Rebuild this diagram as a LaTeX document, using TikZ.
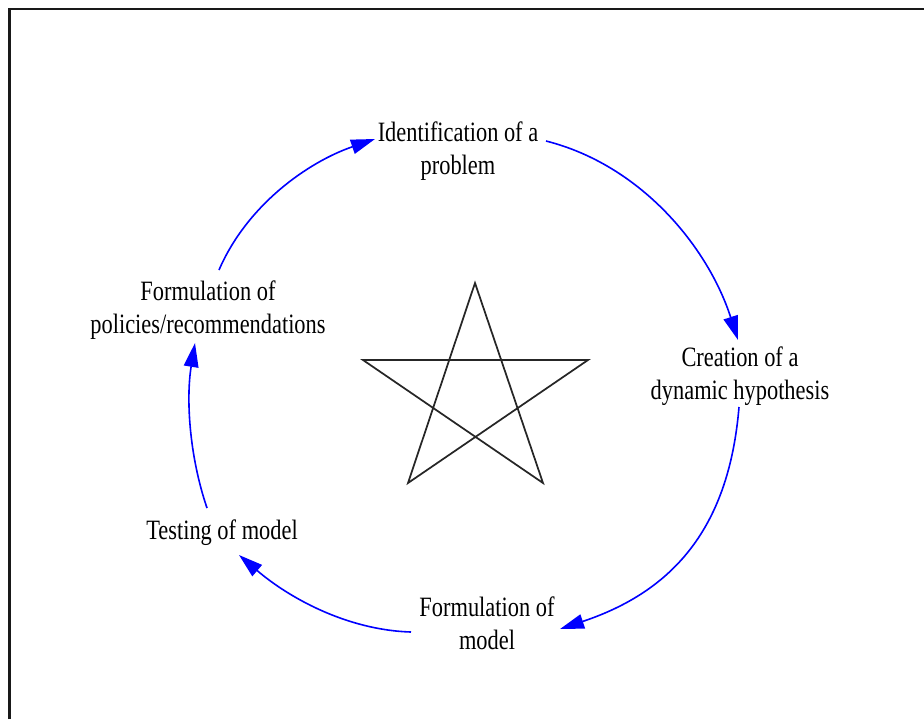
\documentclass[tikz,border=0pt]{standalone}
\usepackage{fontspec}
\setmainfont{Liberation Serif}[FakeStretch=0.80]
\usetikzlibrary{arrows.meta}
\begin{document}
\begin{tikzpicture}[x=0.75pt,y=-0.75pt,
  lbl/.style={align=center,inner sep=0pt,font=\fontsize{21}{25}\selectfont},
  cyc/.style={draw=blue,line width=1.2pt,-{Triangle[length=18pt,width=11pt]}},
  frame/.style={draw=black!90,line width=1.7pt},
  starline/.style={draw=black!85,line width=1.3pt,line join=miter}]
\useasboundingbox (0,0) rectangle (924,719);
\draw[frame] (9.5,719) -- (9.5,9) -- (924,9);
% star
\draw[starline] (475,283) -- (408,483) -- (588,360) -- (363,360) -- (543,483) -- cycle;
% labels
\node[lbl] (n1) at (458,151) {Identification of a\\problem};
\node[lbl] (n2) at (740,376) {Creation of a\\dynamic hypothesis};
\node[lbl] (n3) at (487,623) {Formulation of\\model};
\node[lbl] (n4) at (222,533) {Testing of model};
\node[lbl] (n5) at (208,310) {Formulation of\\policies/recommendations};
% connector ends
\coordinate (a1s) at (546,141); \coordinate (a1e) at (738,340);
\coordinate (a2s) at (739,407); \coordinate (a2e) at (560,629);
\coordinate (a3s) at (411,632); \coordinate (a3e) at (239,555);
\coordinate (a4s) at (207,508); \coordinate (a4e) at (195,343);
\coordinate (a5s) at (219,270); \coordinate (a5e) at (375,139);
\draw[cyc] (a1s) .. controls (641,165) and (708,247) .. (a1e);
\draw[cyc] (a2s) .. controls (729,527) and (674,591) .. (a2e);
\draw[cyc] (a3s) .. controls (346,630) and (288,597) .. (a3e);
\draw[cyc] (a4s) .. controls (189,455) and (186,398) .. (a4e);
\draw[cyc] (a5s) .. controls (247,205) and (308,162) .. (a5e);
\end{tikzpicture}
\end{document}
